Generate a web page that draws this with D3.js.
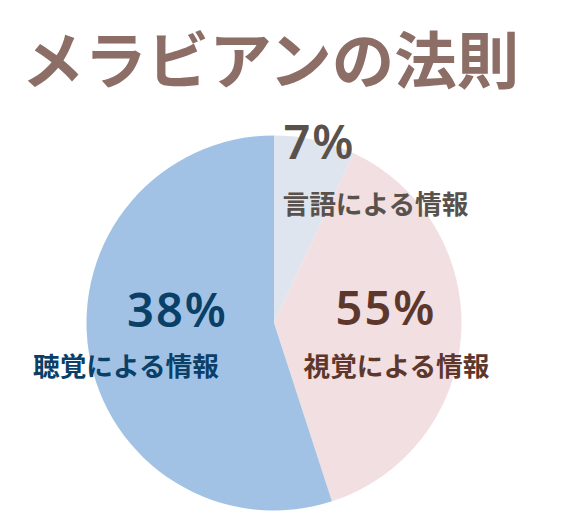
<!DOCTYPE html>
<html>
<head>
<meta charset="utf-8">
<script src="https://cdn.jsdelivr.net/npm/d3@7"></script>
<style>
  html, body { margin: 0; padding: 0; background: #fff; }
  text { font-family: "Noto Sans CJK JP", "Noto Sans", sans-serif; }
</style>
</head>
<body>
<div id="chart"></div>
<script>
// Data
const categories = ['言語による情報', '視覚による情報', '聴覚による情報'];
// slice sizes as drawn in the picture; the printed labels on pink and blue don't match them
const sliceValues = [7, 38, 55];
const valueLabels = ['7%', '55%', '38%'];
const sliceColors = ['#dfe5ee', '#f1dfe1', '#a1c2e4'];
const labelColors = ['#59524c', '#5e372c', '#0a3f68'];
const title = 'メラビアンの法則';

// Dimensions
const width = 566, height = 531;
const center = { x: 274, y: 323 };
const radius = 187.5;

const svg = d3.select('#chart')
    .append('svg')
    .attr('width', width)
    .attr('height', height)
    .style('display', 'block');

svg.append('text')
    .attr('x', 270.5)
    .attr('y', 83.5)
    .attr('text-anchor', 'middle')
    .attr('fill', '#8d6e66')
    .attr('font-size', 62.5)
    .attr('font-weight', 700)
    .text(title);

// Slices
const pie = d3.pie().sort(null)(sliceValues);
const arc = d3.arc().innerRadius(0).outerRadius(radius);

const ctr = svg.append('g')
    .attr('transform', `translate(${center.x},${center.y})`);

ctr.selectAll('path')
    .data(pie)
    .join('path')
    .attr('d', arc)
    .attr('fill', (d, i) => sliceColors[i]);

// Labels sit where the reference has them, not on the slice centroids
const pctPos = [[319.5, 159], [386, 325], [177.5, 327]];
const namePos = [[375.5, 214], [396.5, 376], [126, 376]];

svg.selectAll('text.pct')
    .data(valueLabels)
    .join('text')
    .attr('class', 'pct')
    .attr('x', (d, i) => pctPos[i][0])
    .attr('y', (d, i) => pctPos[i][1])
    .attr('text-anchor', 'middle')
    .attr('fill', (d, i) => labelColors[i])
    .style('font-family', '"Noto Sans"')
    .attr('font-size', 47)
    .attr('font-weight', 600)
    .attr('letter-spacing', 2)
    .text(d => d);

svg.selectAll('text.name')
    .data(categories)
    .join('text')
    .attr('class', 'name')
    .attr('x', (d, i) => namePos[i][0])
    .attr('y', (d, i) => namePos[i][1])
    .attr('text-anchor', 'middle')
    .attr('fill', (d, i) => labelColors[i])
    .attr('font-size', 26.7)
    .attr('font-weight', 700)
    .text(d => d);
</script>
</body>
</html>
